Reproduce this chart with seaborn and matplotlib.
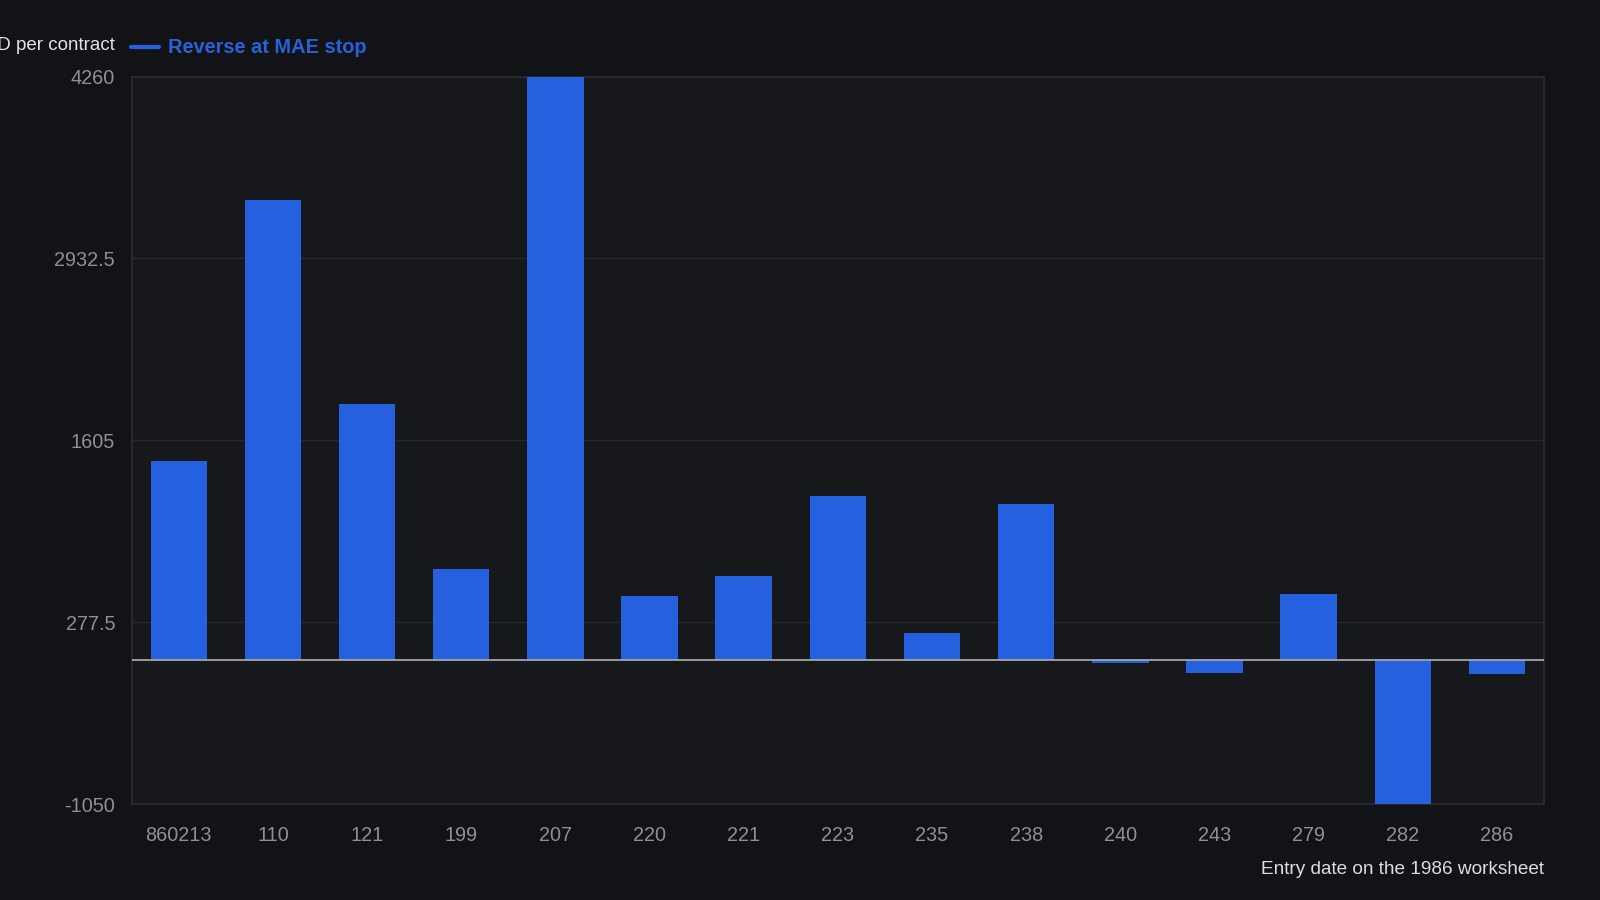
import pandas as pd
import matplotlib.pyplot as plt
import seaborn as sns

# values (USD per contract)
entry_dates = ["860213", "110", "121", "199", "207", "220", "221", "223",
               "235", "238", "240", "243", "279", "282", "286"]
usd_per_contract = [1452, 3359, 1869, 663, 4260, 469, 611, 1199,
                    201, 1140, -20, -90, 483, -1050, -100]
y_ticks = [-1050, 277.5, 1605, 2932.5, 4260]
y_tick_labels = ["-1050", "277.5", "1605", "2932.5", "4260"]

FIG_BG = "#111317"
AX_BG = "#16181c"
BAR = "#2560df"

df = pd.DataFrame({"entry": entry_dates, "usd": usd_per_contract})

sns.set_style("dark")
plt.rcParams["font.family"] = ["Liberation Sans", "DejaVu Sans"]

fig = plt.figure(figsize=(16, 9), dpi=100, facecolor=FIG_BG)
ax = fig.add_axes([0.0823, 0.1066, 0.8827, 0.8084])
ax.set_facecolor(AX_BG)

sns.barplot(data=df, x="entry", y="usd", order=entry_dates, color=BAR,
            saturation=1, width=0.6, linewidth=0, ax=ax, zorder=3)

ax.set_ylim(-1050, 4260)
ax.set_xlim(-0.5, len(entry_dates) - 0.5)
ax.set_yticks(y_ticks)
ax.set_yticklabels(y_tick_labels)
ax.grid(axis="y", color="#26282d", linewidth=1, zorder=0)
ax.grid(axis="x", visible=False)
ax.axhline(0, color="#a3a5aa", linewidth=1.3, zorder=4)

ax.tick_params(axis="both", length=0, colors="#8d9096", labelsize=14.3)
ax.tick_params(axis="y", pad=12)
ax.tick_params(axis="x", pad=16)
for s in ax.spines.values():
    s.set_visible(True)
    s.set_color("#2b2d32")
    s.set_linewidth(1.2)

ax.set_xlabel("")
ax.set_ylabel("")

# y title sits at top-left, partly cut by the figure edge (as in the reference)
fig.text(0.0715, 0.950, "USD per contract", ha="right", va="center",
         color="#e2e3e6", fontsize=13.5)
# legend swatch + label
fig.lines.append(plt.Line2D([0.0816, 0.0995], [0.948, 0.948],
                            transform=fig.transFigure, color=BAR, linewidth=3))
fig.text(0.1052, 0.947, "Reverse at MAE stop", ha="left", va="center",
         color="#2a60d8", fontsize=14.4, fontweight="bold")

fig.text(0.965, 0.034, "Entry date on the 1986 worksheet", ha="right",
         va="center", color="#dcdde0", fontsize=13.7)

plt.savefig("out.png", dpi=100, facecolor=FIG_BG)
